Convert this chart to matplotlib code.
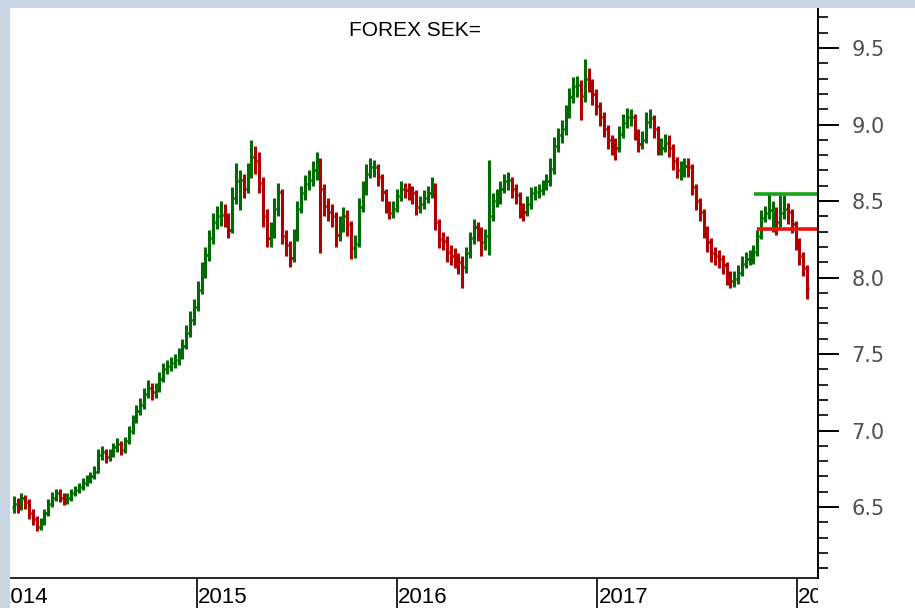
import matplotlib
matplotlib.use("Agg")
import matplotlib.pyplot as plt
import matplotlib.dates as mdates
from matplotlib.patches import Rectangle
from matplotlib.ticker import MultipleLocator, FormatStrFormatter
import numpy as np
import pandas as pd

# weekly bars, USD/SEK
week_start = "2014-01-31"

closes = [
    6.52, 6.50, 6.56, 6.53, 6.46, 6.42, 6.37, 6.40, 6.46, 6.52,
    6.56, 6.59, 6.56, 6.54, 6.56, 6.59, 6.61, 6.63, 6.66, 6.68,
    6.70, 6.73, 6.84, 6.86, 6.83, 6.85, 6.89, 6.91, 6.87, 6.93,
    7.00, 7.07, 7.13, 7.17, 7.24, 7.28, 7.25, 7.27, 7.34, 7.40,
    7.42, 7.44, 7.46, 7.50, 7.55, 7.64, 7.72, 7.81, 7.92, 8.04,
    8.15, 8.26, 8.36, 8.40, 8.41, 8.38, 8.31, 8.52, 8.63, 8.64,
    8.58, 8.69, 8.79, 8.76, 8.62, 8.40, 8.26, 8.29, 8.45, 8.56,
    8.27, 8.21, 8.13, 8.27, 8.45, 8.55, 8.61, 8.64, 8.70, 8.76,
    8.58, 8.47, 8.43, 8.40, 8.28, 8.34, 8.40, 8.35, 8.19, 8.22,
    8.46, 8.58, 8.68, 8.72, 8.72, 8.66, 8.56, 8.47, 8.42, 8.45,
    8.53, 8.58, 8.57, 8.56, 8.55, 8.46, 8.48, 8.52, 8.55, 8.60,
    8.36, 8.25, 8.24, 8.17, 8.14, 8.12, 8.10, 8.07, 8.16, 8.26,
    8.33, 8.30, 8.23, 8.27, 8.40, 8.50, 8.52, 8.58, 8.63, 8.64,
    8.58, 8.54, 8.45, 8.43, 8.48, 8.55, 8.56, 8.57, 8.60, 8.63,
    8.71, 8.86, 8.93, 8.97, 9.07, 9.18, 9.25, 9.26, 9.19, 9.30,
    9.28, 9.20, 9.12, 9.05, 8.97, 8.90, 8.86, 8.85, 8.94, 9.01,
    9.05, 9.05, 8.95, 8.87, 8.90, 9.02, 9.04, 8.97, 8.85, 8.85,
    8.88, 8.85, 8.76, 8.70, 8.70, 8.73, 8.72, 8.59, 8.50, 8.43,
    8.31, 8.23, 8.16, 8.14, 8.12, 8.08, 8.00, 7.98, 7.99, 8.03,
    8.09, 8.12, 8.13, 8.17, 8.27, 8.39, 8.42, 8.44, 8.44, 8.36,
    8.42, 8.45, 8.43, 8.35, 8.24, 8.14, 8.06, 7.93,
]

highs = [
    6.57, 6.56, 6.59, 6.58, 6.55, 6.49, 6.44, 6.43, 6.49, 6.55,
    6.60, 6.62, 6.62, 6.59, 6.59, 6.62, 6.64, 6.66, 6.69, 6.71,
    6.73, 6.77, 6.88, 6.90, 6.88, 6.88, 6.92, 6.95, 6.93, 6.96,
    7.03, 7.10, 7.17, 7.21, 7.28, 7.33, 7.31, 7.31, 7.38, 7.44,
    7.46, 7.48, 7.50, 7.54, 7.60, 7.69, 7.78, 7.86, 7.98, 8.10,
    8.20, 8.31, 8.42, 8.47, 8.50, 8.48, 8.42, 8.59, 8.75, 8.70,
    8.68, 8.75, 8.90, 8.86, 8.82, 8.66, 8.45, 8.36, 8.52, 8.62,
    8.58, 8.31, 8.24, 8.32, 8.50, 8.60, 8.67, 8.70, 8.76, 8.82,
    8.78, 8.61, 8.52, 8.48, 8.43, 8.40, 8.46, 8.44, 8.37, 8.28,
    8.52, 8.63, 8.74, 8.78, 8.77, 8.74, 8.68, 8.58, 8.50, 8.50,
    8.58, 8.63, 8.62, 8.62, 8.60, 8.57, 8.53, 8.57, 8.60, 8.66,
    8.62, 8.38, 8.30, 8.27, 8.21, 8.19, 8.16, 8.14, 8.20, 8.30,
    8.38, 8.36, 8.33, 8.32, 8.77, 8.55, 8.58, 8.63, 8.68, 8.69,
    8.66, 8.61, 8.56, 8.49, 8.53, 8.59, 8.60, 8.61, 8.64, 8.68,
    8.78, 8.92, 8.98, 9.03, 9.13, 9.24, 9.31, 9.32, 9.29, 9.43,
    9.37, 9.30, 9.23, 9.15, 9.08, 9.00, 8.93, 8.91, 8.99, 9.07,
    9.11, 9.10, 9.07, 8.97, 8.96, 9.08, 9.10, 9.06, 8.99, 8.91,
    8.94, 8.93, 8.87, 8.79, 8.76, 8.78, 8.78, 8.74, 8.61, 8.52,
    8.45, 8.34, 8.26, 8.20, 8.18, 8.15, 8.10, 8.04, 8.04, 8.08,
    8.14, 8.17, 8.18, 8.21, 8.31, 8.44, 8.47, 8.55, 8.50, 8.46,
    8.55, 8.54, 8.49, 8.45, 8.37, 8.26, 8.17, 8.08,
]

lows = [
    6.46, 6.46, 6.48, 6.49, 6.42, 6.38, 6.34, 6.35, 6.38, 6.44,
    6.50, 6.54, 6.53, 6.51, 6.52, 6.54, 6.57, 6.59, 6.61, 6.64,
    6.66, 6.68, 6.72, 6.81, 6.79, 6.80, 6.83, 6.86, 6.84, 6.85,
    6.91, 6.98, 7.05, 7.10, 7.14, 7.21, 7.20, 7.21, 7.25, 7.32,
    7.37, 7.39, 7.41, 7.43, 7.47, 7.53, 7.61, 7.69, 7.78, 7.89,
    8.00, 8.11, 8.22, 8.32, 8.34, 8.33, 8.26, 8.29, 8.48, 8.44,
    8.52, 8.55, 8.65, 8.68, 8.55, 8.33, 8.20, 8.20, 8.26, 8.40,
    8.22, 8.14, 8.07, 8.10, 8.24, 8.42, 8.51, 8.57, 8.60, 8.64,
    8.16, 8.40, 8.37, 8.33, 8.20, 8.24, 8.30, 8.27, 8.12, 8.13,
    8.20, 8.43, 8.54, 8.65, 8.66, 8.60, 8.50, 8.42, 8.38, 8.39,
    8.43, 8.50, 8.52, 8.51, 8.48, 8.41, 8.42, 8.45, 8.49, 8.52,
    8.31, 8.19, 8.18, 8.10, 8.08, 8.06, 8.02, 7.93, 8.03, 8.13,
    8.22, 8.24, 8.14, 8.18, 8.15, 8.37, 8.46, 8.48, 8.55, 8.57,
    8.52, 8.48, 8.39, 8.37, 8.40, 8.45, 8.51, 8.52, 8.54, 8.57,
    8.60, 8.68, 8.82, 8.88, 8.93, 9.04, 9.14, 9.18, 9.03, 9.15,
    9.21, 9.13, 9.06, 8.99, 8.92, 8.84, 8.80, 8.77, 8.82, 8.91,
    8.98, 8.99, 8.90, 8.82, 8.84, 8.88, 8.98, 8.91, 8.80, 8.80,
    8.82, 8.79, 8.70, 8.65, 8.64, 8.66, 8.66, 8.54, 8.44, 8.37,
    8.26, 8.17, 8.10, 8.08, 8.06, 8.02, 7.95, 7.93, 7.94, 7.96,
    8.01, 8.06, 8.08, 8.09, 8.14, 8.25, 8.36, 8.38, 8.30, 8.28,
    8.33, 8.38, 8.35, 8.29, 8.18, 8.08, 8.01, 7.86,
]

first_open = 6.50

# support / resistance levels drawn on the chart
level_values = [8.545, 8.32]
level_starts = ["2017-10-15", "2017-10-19"]
level_colors = ["#1aa31a", "#f01010"]

years = [2014, 2015, 2016, 2017, 2018]

up_color = "#006b00"
down_color = "#b00000"
border = "#c7d5e2"

W, H = 915, 608
fig = plt.figure(figsize=(W / 100, H / 100), dpi=100)
fig.patch.set_facecolor("white")
fig.patches.append(Rectangle((0, 0), 10 / W, 1, transform=fig.transFigure,
                             facecolor=border, edgecolor="none", zorder=10))
fig.patches.append(Rectangle((0, 1 - 8 / H), 1, 8 / H, transform=fig.transFigure,
                             facecolor=border, edgecolor="none", zorder=10))

ax = fig.add_axes([10 / W, 30 / H, 808 / W, 570 / H])

dates = pd.date_range(week_start, periods=len(closes), freq="W-FRI")
x = mdates.date2num(dates)
c = np.array(closes)
o = np.array([first_open] + closes[:-1])
hi = np.array(highs)
lo = np.array(lows)
cols = [up_color if cc >= oo else down_color for oo, cc in zip(o, c)]

ax.vlines(x, lo, hi, colors=cols, linewidth=2.2)
ax.hlines(o, x - 3.8, x, colors=cols, linewidth=1.9)
ax.hlines(c, x, x + 3.8, colors=cols, linewidth=1.9)

xmin = mdates.date2num(pd.Timestamp("2014-01-24"))
xmax = mdates.date2num(pd.Timestamp("2018-02-08"))
for val, start, col in zip(level_values, level_starts, level_colors):
    ax.hlines(val, mdates.date2num(pd.Timestamp(start)), xmax, colors=col, linewidth=2.6)

ax.set_xlim(xmin, xmax)
ax.set_ylim(6.036, 9.762)

for s in ["left", "top"]:
    ax.spines[s].set_visible(False)
ax.spines["right"].set_linewidth(1.4)
ax.spines["bottom"].set_linewidth(1.2)
ax.set_xticks([])
ax.yaxis.tick_right()
ax.yaxis.set_major_locator(MultipleLocator(0.5))
ax.yaxis.set_minor_locator(MultipleLocator(0.1))
ax.yaxis.set_major_formatter(FormatStrFormatter("%.1f"))
ax.tick_params(axis="y", which="major", length=15, width=1.4, pad=9,
               labelsize=15, labelcolor="#505050")
ax.tick_params(axis="y", which="minor", length=7, width=1.2)

# year strip under the chart
axb = fig.add_axes([10 / W, 0, 808 / W, 30 / H])
axb.set_xlim(xmin, xmax)
axb.set_ylim(0, 1)
axb.axis("off")
for yr in years:
    xp = mdates.date2num(pd.Timestamp(f"{yr}-01-01"))
    axb.vlines(xp, 0, 1, colors="black", linewidth=1.2)
    axb.text(xp + 2, 0.34, str(yr), ha="left", va="center", fontsize=16,
             family="Liberation Sans", clip_on=True)

fig.text(415 / W, 1 - 30 / H, "FOREX SEK=", ha="center", va="center",
         fontsize=15, family="Liberation Sans")

fig.savefig("out.png", dpi=100)
